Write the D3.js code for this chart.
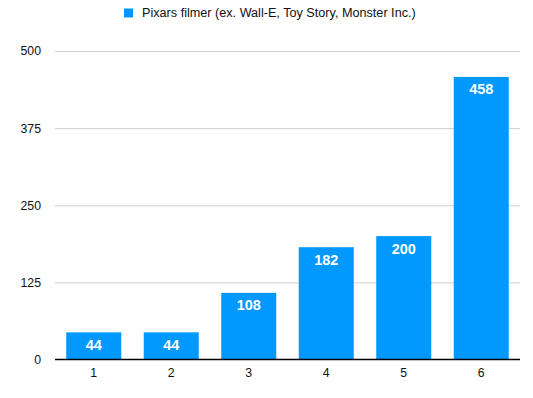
<!DOCTYPE html>
<html><head><meta charset="utf-8">
<script src="https://cdn.jsdelivr.net/npm/d3@7"></script>
<style>body{margin:0;background:#fff}svg{display:block;font-family:"Liberation Sans",Arial,Helvetica,sans-serif}</style>
</head><body>
<script>
const categories = ["1","2","3","4","5","6"];
const values = [44, 44, 108, 182, 200, 458];
const yTicks = [0, 125, 250, 375, 500];
const seriesName = "Pixars filmer (ex. Wall-E, Toy Story, Monster Inc.)";

const W = 533, H = 398;
const m = {left: 55, right: 13, top: 51, bottom: 38.5};
const svg = d3.select("body").append("svg").attr("width", W).attr("height", H);

const x = d3.scaleBand().domain(categories).range([m.left, W - m.right]).paddingInner(0.29).paddingOuter(0.145);
const y = d3.scaleLinear().domain([0, 500]).range([H - m.bottom, m.top]);

// grid
const yAxis = d3.axisLeft(y).tickValues(yTicks).tickSize(-(W - m.left - m.right)).tickPadding(15);
const gy = svg.append("g").attr("transform", `translate(${m.left},0)`).call(yAxis);
gy.select(".domain").remove();
gy.selectAll(".tick line").attr("stroke", "#d0d0d0").attr("stroke-width", 1);
gy.selectAll(".tick text").attr("font-size", 12.3).attr("fill", "#111").attr("x", -14);
gy.selectAll(".tick").filter(d => d === 0).select("line").remove();

// bars
svg.append("g").selectAll("rect").data(values).join("rect")
  .attr("x", (d, i) => x(categories[i]))
  .attr("width", x.bandwidth())
  .attr("y", d => y(d))
  .attr("height", d => y(0) - y(d))
  .attr("fill", "#0299fe");

// labels
svg.append("g").selectAll("text").data(values).join("text")
  .attr("x", (d, i) => x(categories[i]) + x.bandwidth() / 2)
  .attr("y", d => y(d) + 17.5)
  .attr("text-anchor", "middle")
  .attr("font-size", 14.5)
  .attr("font-weight", "bold")
  .attr("fill", "#fff")
  .text(d => d);

// x axis
const xAxis = d3.axisBottom(x).tickSize(0).tickPadding(9);
const gx = svg.append("g").attr("transform", `translate(0,${y(0)})`).call(xAxis);
gx.select(".domain").attr("stroke", "#000").attr("stroke-width", 1.3).attr("d", `M${m.left},0H${W - m.right}`);
gx.selectAll(".tick text").attr("font-size", 12.3).attr("fill", "#111");

// legend
const lg = svg.append("g");
lg.append("rect").attr("x", 124).attr("y", 8.5).attr("width", 9).attr("height", 9).attr("fill", "#0299fe");
lg.append("text").attr("x", 142).attr("y", 13).attr("dy", "0.35em").attr("font-size", 12.65).attr("fill", "#111").text(seriesName);
</script>
</body></html>
